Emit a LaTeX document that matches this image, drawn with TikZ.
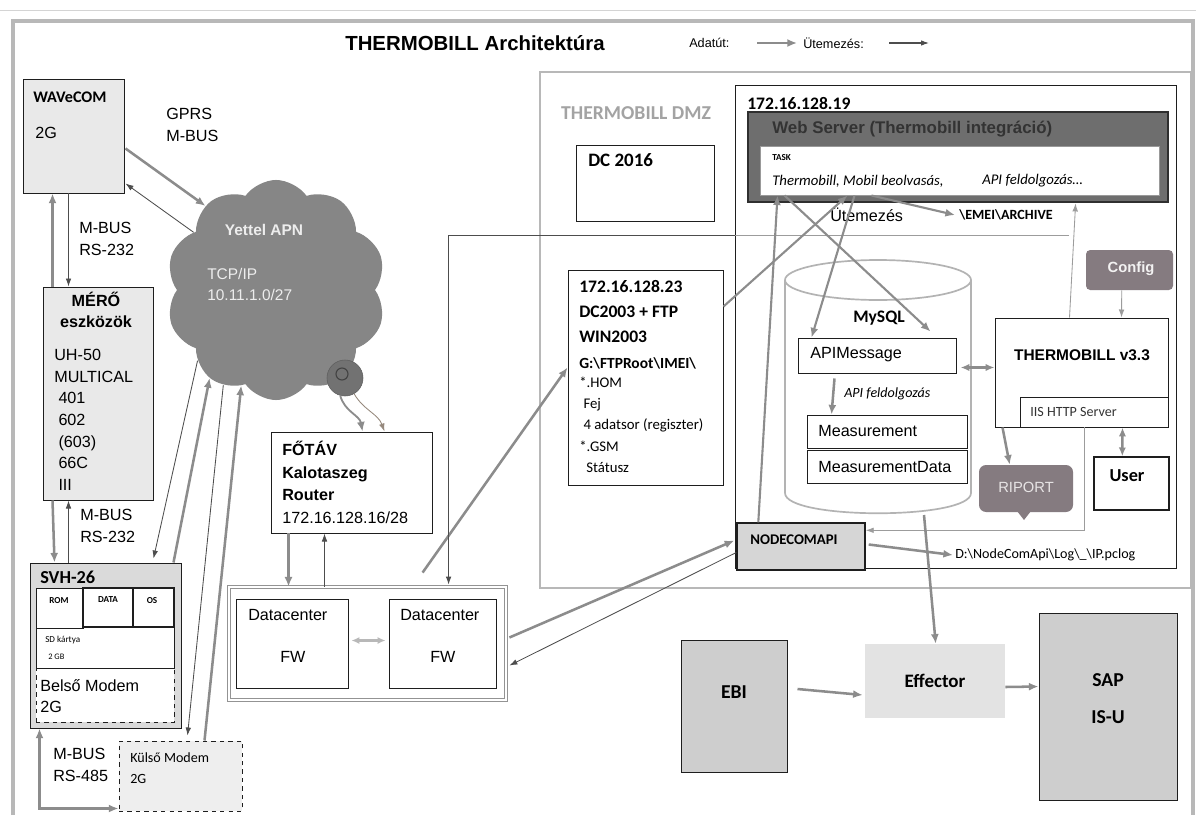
\documentclass[tikz,border=0pt]{standalone}
\usepackage{fontspec}
\setmainfont{Liberation Sans}
\newfontfamily\calfont{Carlito}
\usepackage{xcolor}
\definecolor{frameGray}{HTML}{B8B8B8}
\definecolor{boxLine}{HTML}{1E1E1E}
\definecolor{boxFill}{HTML}{E9E9E9}
\definecolor{svhFill}{HTML}{DADADA}
\definecolor{dataGray}{HTML}{8C8C8C}
\definecolor{schedGray}{HTML}{4D4D4D}
\definecolor{schedLight}{HTML}{9C9C9C}
\definecolor{cloudGray}{HTML}{868686}
\definecolor{cloudText}{HTML}{EDEDED}
\definecolor{barGray}{HTML}{6E6E6E}
\definecolor{barLine}{HTML}{2F2F2F}
\definecolor{mauveGray}{HTML}{857B80}
\definecolor{dmzText}{HTML}{A3A3A3}
\definecolor{ebiFill}{HTML}{CECECE}
\definecolor{effFill}{HTML}{E3E3E3}
\definecolor{nodeFill}{HTML}{D6D6D6}
\definecolor{cylLine}{HTML}{B3B3B3}
\usepackage{tikz}
\usetikzlibrary{shapes,shapes.symbols,arrows,positioning,calc,arrows.meta,fit}
\newcommand{\fsz}[2]{\fontsize{#1}{#2}\selectfont}
\tikzset{
  plainBox/.style={
    rectangle,
    draw=boxLine,
    line width=0.7pt,
    fill=white,
    inner sep=0pt
 },
  grayBox/.style={
    plainBox,
    fill=boxFill
 },
  labelText/.style={
    inner sep=0pt,
    anchor=west,
    font=\fsz{11.5}{15.5}
 },
  calText/.style={
    inner sep=0pt,
    anchor=west,
    font=\calfont\fsz{10}{12}
 },
  dataArrow/.style={
    -{Latex[length=2.4mm,width=2mm]},
    line width=1.8pt,
    color=dataGray
 },
  schedArrow/.style={
    -{Latex[length=2mm,width=1.4mm]},
    line width=0.6pt,
    color=schedGray
 }
}
\begin{document}
\begin{tikzpicture}[x=0.025cm, y=-0.025cm]
            \useasboundingbox (0,0) rectangle (1196,815);
            \fill[white] (0,0) rectangle (1196,815);
            % frames
            \draw[frameGray!60, line width=0.4pt] (0,10) -- (1196,10);
            \draw[frameGray, line width=2.2pt] (13,815) -- (13,21) -- (1193,21) -- (1193,815);
            \draw[frameGray, line width=2pt] (540,72) rectangle (1191,588);

            % title and legend
            \node[font=\bfseries\fsz{14.5}{17}, inner sep=0pt] (title) at (475,43) {THERMOBILL Architektúra};
            \node[labelText, font=\fsz{9}{11}] (legData) at (689,43) {Adatút:};
            \coordinate (legA1) at (757,43);
            \coordinate (legA2) at (797,43);
            \node[labelText, font=\fsz{9}{11}] (legSched) at (803,43) {Ütemezés:};
            \coordinate (legB1) at (889,43);
            \coordinate (legB2) at (929,43);
            \draw[dataArrow, line width=1.5pt] (legA1) -- (legA2);
            \draw[schedArrow, line width=0.8pt] (legB1) -- (legB2);

            % WAVeCOM
            \node[grayBox, fit={(23,79) (124,193)}] (wavecom) {};
            \node[labelText, font=\calfont\bfseries\fsz{11.5}{14}] (wavecomName) at (33,97) {WAVeCOM};
            \node[labelText] (wavecomG) at (35,133) {2G};
            \node[labelText, align=left, anchor=north west] (gprs) at (166,108) {GPRS\\M-BUS};

            % MERO eszkozok
            \node[grayBox, fit={(43,287) (153,500)}] (mero) {};
            \node[font=\bfseries\fsz{11.5}{15}, align=center, inner sep=0pt, anchor=north] (meroName) at (96,292) {MÉRŐ\\eszközök};
            \node[labelText, align=left, anchor=north west, font=\fsz{11.5}{15.4}] (meroList) at (54,349) {UH-50\\MULTICAL\\\hspace*{3pt}401\\\hspace*{3pt}602\\\hspace*{3pt}(603)\\\hspace*{3pt}66C\\\hspace*{3pt}III};
            \node[labelText, align=left, anchor=north west] (busA) at (79,222) {M-BUS\\RS-232};
            \node[labelText, align=left, anchor=north west] (busB) at (80,509) {M-BUS\\RS-232};

            % SVH-26
            \node[plainBox, fill=svhFill, fit={(30,563) (181,728)}] (svh) {};
            \node[labelText, font=\calfont\bfseries\fsz{13}{15}] (svhName) at (40,577) {SVH-26};
            \node[plainBox, dashed, fit={(36,668) (174,722)}] (belso) {};
            \node[plainBox, fit={(36,588) (174,668)}] (svhMem) {};
            \node[plainBox, fit={(36,588) (83,628)}] (rom) {};
            \node[plainBox, line width=1pt, fit={(83,588) (133,627)}] (data) {};
            \node[plainBox, line width=1pt, fit={(133,588) (174,627)}] (os) {};
            \node[font=\calfont\bfseries\fsz{6.5}{8}, inner sep=0pt] (romT) at (59,601) {ROM};
            \node[font=\calfont\bfseries\fsz{6.5}{8}, inner sep=0pt] (dataT) at (108,600) {DATA};
            \node[font=\calfont\bfseries\fsz{6.5}{8}, inner sep=0pt] (osT) at (152,601) {OS};
            \node[calText, font=\calfont\fsz{6.5}{8}] (sdT) at (45,640) {SD kártya};
            \node[calText, font=\calfont\fsz{6}{8}] (gbT) at (48,657) {2 GB};
            \node[labelText] (belsoT) at (40,686) {Belső Modem};
            \node[labelText] (belsoG) at (40,707) {2G};

            % Kulso modem
            \node[plainBox, dashed, fill=effFill!60, fit={(119,741) (242,811)}] (kulso) {};
            \node[calText, font=\calfont\fsz{10}{12}] (kulsoName) at (130,758) {Külső Modem};
            \node[calText] (kulsoG) at (130,779) {2G};
            \node[labelText, align=left, anchor=north west] (busC) at (53,748) {M-BUS\\RS-485};

            % Yettel APN cloud
            \node[cloud, cloud puffs=10, cloud puff arc=110, aspect=1, fill=cloudGray, minimum width=5.5cm, minimum height=5.5cm, inner sep=0pt] (apn) at (276,290) {};
            \node[font=\bfseries\fsz{11}{13}, text=cloudText, inner sep=0pt] (apnName) at (264,230) {Yettel APN};
            \node[labelText, align=left, anchor=north west, text=cloudText, font=\fsz{11}{15}] (apnIp) at (207,268) {TCP/IP\\10.11.1.0/27};
            \node[circle, draw=cloudGray!70!black, fill=cloudGray!85!black, minimum size=0.9cm, inner sep=0pt] (dish) at (345,378) {};
            \draw[cloudGray!50!black, line width=0.8pt] (342,374) circle[radius=6];

            % FOTAV router
            \node[plainBox, fit={(271,432) (432,533)}] (router) {};
            \node[labelText, align=left, anchor=north west, font=\fsz{11.5}{16}] (routerT) at (282,441) {\textbf{FŐTÁV}\\\textbf{Kalotaszeg}\\\textbf{Router}\\172.16.128.16/28};

            % Datacenter FW
            \node[rectangle, draw=frameGray!80!black, double, double distance=2pt, line width=0.6pt, fit={(229,587) (506,700)}, inner sep=0pt] (dcFrame) {};
            \node[plainBox, fit={(236,599) (348,688)}] (fw1) {};
            \node[plainBox, fit={(389,599) (496,688)}] (fw2) {};
            \node[labelText] (fw1T) at (248,615) {Datacenter};
            \node[labelText] (fw1F) at (280,657) {FW};
            \node[labelText] (fw2T) at (400,615) {Datacenter};
            \node[labelText] (fw2F) at (430,657) {FW};

            % DMZ
            \node[font=\calfont\bfseries\fsz{14}{16}, text=dmzText, inner sep=0pt] (dmzTitle) at (636,113) {THERMOBILL DMZ};
            \node[plainBox, fit={(576,145) (714,221)}] (dc2016) {};
            \node[calText, font=\calfont\bfseries\fsz{13.5}{16}] (dc2016T) at (588,160) {DC 2016};
            \node[plainBox, fit={(568,270) (723,485)}] (ftp) {};
            \node[calText, align=left, anchor=north west, font=\calfont\bfseries\fsz{12.5}{17.8}] (ftpHead) at (579,280) {172.16.128.23\\DC2003 + FTP\\WIN2003};
            \node[calText, font=\calfont\bfseries\fsz{11}{13}] (ftpPath) at (579,363) {G:\textbackslash FTPRoot\textbackslash IMEI\textbackslash};
            \node[calText, align=left, anchor=north west, font=\calfont\fsz{10.5}{15}] (ftpList) at (579,377) {*.HOM\\\hspace*{3pt}Fej\\\hspace*{3pt}4 adatsor (regiszter)\\*.GSM\\\hspace*{5pt}Státusz};

            % 172.16.128.19 server
            \node[plainBox, fit={(735,85) (1176,568)}] (srv) {};
            \node[calText, font=\calfont\bfseries\fsz{12.5}{15}] (srvName) at (747,103) {172.16.128.19};
            \node[rectangle, draw=barLine, line width=2pt, fill=barGray, fit={(748,112) (1168,202)}, inner sep=0pt] (taskBar) {};
            \node[labelText, font=\bfseries\fsz{12}{14}, text=black!80] (taskTitle) at (772,129) {Web Server (Thermobill integráció)};
            \node[plainBox, draw=black!40, fit={(760,146) (1159,195)}] (task) {};
            \node[calText, font=\calfont\bfseries\fsz{6.5}{8}] (taskT) at (772,158) {TASK};
            \node[calText, font=\calfont\itshape\fsz{10.5}{12}] (taskJob) at (772,181) {Thermobill, Mobil beolvasás,};
            \node[calText, font=\calfont\itshape\fsz{10.5}{12}] (taskApi) at (982,181) {API feldolgozás\ldots};
            \node[labelText] (utem) at (830,215) {Ütemezés};
            \node[calText, font=\calfont\bfseries\fsz{10}{12}] (archive) at (959,215) {\textbackslash EMEI\textbackslash ARCHIVE};

            % MySQL cylinder
            \draw[cylLine, line width=1.2pt, fill=white] (785,280) -- (785,493) .. controls (785,520) and (971,520) .. (971,493) -- (971,280);
            \draw[cylLine, line width=1.2pt] (878,280) ellipse[x radius=93, y radius=20];
            \coordinate (mysqlBot) at (924,515);
            \node[font=\calfont\bfseries\fsz{12.5}{15}, inner sep=0pt] (mysqlT) at (879,318) {MySQL};
            \node[plainBox, fit={(798,338) (956,373)}] (apiMsg) {};
            \node[labelText] (apiMsgT) at (810,355) {APIMessage};
            \node[calText, font=\calfont\itshape\fsz{10}{12}] (apiProc) at (844,394) {API feldolgozás};
            \node[plainBox, fit={(807,415) (967,448)}] (measure) {};
            \node[labelText] (measureT) at (818,431) {Measurement};
            \node[plainBox, fit={(807,450) (967,483)}] (measureData) {};
            \node[labelText] (measureDataT) at (818,467) {MeasurementData};

            % THERMOBILL v3.3 and friends
            \node[plainBox, fit={(995,318) (1168,427)}] (thermo) {};
            \node[font=\bfseries\fsz{11}{13}, inner sep=0pt] (thermoT) at (1082,355) {THERMOBILL v3.3};
            \node[plainBox, fit={(1020,397) (1168,427)}] (iis) {};
            \node[calText, font=\calfont\fsz{10}{12}, text=black!80] (iisT) at (1030,412) {IIS HTTP Server};
            \node[rectangle, rounded corners=3pt, fill=mauveGray, fit={(1086,250) (1173,290)}, inner sep=0pt] (config) {};
            \node[font=\bfseries\fsz{10.5}{12}, text=white!90!mauveGray, inner sep=0pt] (configT) at (1131,269) {Config};
            \node[rectangle, rounded corners=5pt, fill=mauveGray, fit={(979,465) (1073,512)}, inner sep=0pt] (riport) {};
            \fill[mauveGray] (1017,511) -- (1031,511) -- (1024,520) -- cycle;
            \node[font=\fsz{10.5}{12}, text=white!80!mauveGray, inner sep=0pt] (riportT) at (1026,487) {RIPORT};
            \node[plainBox, line width=1pt, fit={(1094,457) (1169,510)}] (user) {};
            \node[font=\calfont\bfseries\fsz{13}{15}, inner sep=0pt] (userT) at (1127,476) {User};
            \node[plainBox, fill=nodeFill, line width=1pt, fit={(737,523) (865,570)}] (nodecom) {};
            \node[calText, font=\calfont\bfseries\fsz{10.5}{12}] (nodecomT) at (750,540) {NODECOMAPI};
            \node[calText] (logPath) at (955,555) {D:\textbackslash NodeComApi\textbackslash Log\textbackslash\textunderscore\textbackslash IP.pclog};

            % EBI, Effector, SAP
            \node[plainBox, fill=ebiFill, fit={(681,640) (787,772)}] (ebi) {};
            \node[font=\calfont\bfseries\fsz{14}{16}, inner sep=0pt] (ebiT) at (734,692) {EBI};
            \node[rectangle, fill=effFill, fit={(865,644) (1005,718)}, inner sep=0pt] (effector) {};
            \node[font=\calfont\bfseries\fsz{13.5}{16}, inner sep=0pt] (effectorT) at (935,681) {Effector};
            \node[plainBox, fill=ebiFill, fit={(1039,613) (1177,800)}] (sap) {};
            \node[font=\calfont\bfseries\fsz{14}{16}, inner sep=0pt] (sapT) at (1108,680) {SAP};
            \node[font=\calfont\bfseries\fsz{14}{16}, inner sep=0pt] (isuT) at (1108,717) {IS-U};

            % left side connectors
            \draw[dataArrow] ($(wavecom.south east)+(1,-45)$) -- (apn.130);
            \draw[schedArrow] (apn.145) -- ($(wavecom.south east)+(1,-10)$);
            \draw[dataArrow] ($(mero.north west)+(10,0)$) -- ($(wavecom.south west)+(30,0)$);
            \draw[schedArrow] ($(wavecom.south west)+(46,0)$) -- ($(mero.north west)+(26,0)$);
            \draw[dataArrow] ($(mero.south west)+(10,0)$) -- ($(svh.north west)+(25,0)$);
            \draw[schedArrow] ($(svh.north west)+(39,0)$) -- ($(mero.south west)+(26,0)$);
            \draw[schedArrow] (apn.222) -- ($(svh.north east)+(-28,-4)$);
            \draw[dataArrow] ($(svh.north east)+(-8,0)$) -- (apn.233);
            \draw[schedArrow] (apn.241) -- ($(kulso.north west)+(69,-5)$);
            \draw[dataArrow] ($(kulso.north west)+(86,0)$) -- (apn.250);
            \draw[dataArrow, {Latex[length=2.4mm,width=2mm]}-{Latex[length=2.4mm,width=2mm]}] ($(svh.south west)+(10,0)$) |- ($(kulso.south west)+(0,-3)$);

            % router and datacenter
            \draw[dataArrow, line width=1.3pt] (dish.255) to[out=-75, in=100] ($(router.north west)+(92,0)$);
            \draw[schedArrow, color=dataGray!80!brown] (dish.300) to[out=-60, in=110] ($(router.north west)+(114,0)$);
            \coordinate (rDown) at ($(router.south west)+(18,0)$);
            \coordinate (rUp) at ($(router.south west)+(54,0)$);
            \draw[dataArrow] (rDown) -- (rDown |- dcFrame.north);
            \draw[schedArrow] (rUp |- dcFrame.north) -- (rUp);
            \draw[{Latex[length=2mm,width=1.8mm]}-{Latex[length=2mm,width=1.8mm]}, line width=2.2pt, color=frameGray] ($(fw1.east)+(3,-3)$) -- ($(fw2.west)+(-3,-3)$);
            \draw[dataArrow] ($(dcFrame.north west)+(194,-14)$) -- ($(ftp.north west)+(0,98)$);
            \draw[dataArrow] ($(dcFrame.east)+(3,-6)$) -- ($(nodecom.west)+(-2,-6)$);
            \draw[schedArrow] ($(nodecom.west)+(0,6)$) -- ($(dcFrame.east)+(3,22)$);

            % scheduling from THERMOBILL v3.3
            \coordinate (schedJ) at (1069,235);
            \coordinate (dcIn) at ($(dcFrame.north west)+(220,-2)$);
            \draw[schedLight, line width=0.6pt] (schedJ) -- (srv.west |- schedJ);
            \draw[schedArrow] (srv.west |- schedJ) -| (dcIn);
            \draw[schedArrow, color=schedLight] ($(thermo.north west)+(75,0)$) -- ($(taskBar.south west)+(329,0)$);
            \coordinate (schedK) at ($(iis.south west)+(65,0)$);
            \draw[schedArrow, color=schedLight] (schedK) |- ($(nodecom.north east)+(0,8)$);
            \draw[schedArrow, color=schedLight] ($(config.south west)+(36,0)$) -- ($(thermo.north west)+(127,0)$);

            % TASK data paths
            \draw[dataArrow, line width=1.5pt] ($(nodecom.north west)+(22,0)$) -- ($(task.south west)+(18,0)$);
            \draw[dataArrow, line width=1.5pt] ($(task.south west)+(25,0)$) -- ($(apiMsg.north east)+(-26,-6)$);
            \draw[dataArrow, line width=1.5pt] ($(ftp.north east)+(0,37)$) -- ($(task.south west)+(88,0)$);
            \draw[dataArrow, line width=1.5pt] ($(task.south west)+(95,0)$) -- ($(apiMsg.north west)+(14,0)$);
            \draw[dataArrow, line width=1.5pt] ($(task.south west)+(112,0)$) -- ($(archive.west)+(-4,0)$);
            \draw[dataArrow] ($(apiMsg.south west)+(37,5)$) -- ($(measure.north west)+(25,0)$);
            \draw[dataArrow, {Latex[length=2.2mm,width=1.8mm]}-{Latex[length=2.2mm,width=1.8mm]}] ($(apiMsg.south east)+(4,-6)$) -- ($(thermo.south west)+(0,-60)$);
            \draw[dataArrow] ($(thermo.south west)+(8,0)$) -- ($(riport.north west)+(31,0)$);
            \draw[dataArrow, {Latex[length=2.2mm,width=1.8mm]}-{Latex[length=2.2mm,width=1.8mm]}] ($(iis.south west)+(103,0)$) -- ($(user.north west)+(29,0)$);
            \draw[dataArrow] ($(nodecom.east)+(3,-2)$) -- ($(logPath.west)+(-2,0)$);
            \draw[dataArrow] (mysqlBot) -- ($(effector.north west)+(71,0)$);
            \draw[dataArrow] ($(ebi.east)+(10,-17)$) -- ($(effector.west)+(-2,14)$);
            \draw[dataArrow] ($(effector.east)+(0,6)$) -- ($(sap.north west)+(0,74)$);
        \end{tikzpicture}
\end{document}
